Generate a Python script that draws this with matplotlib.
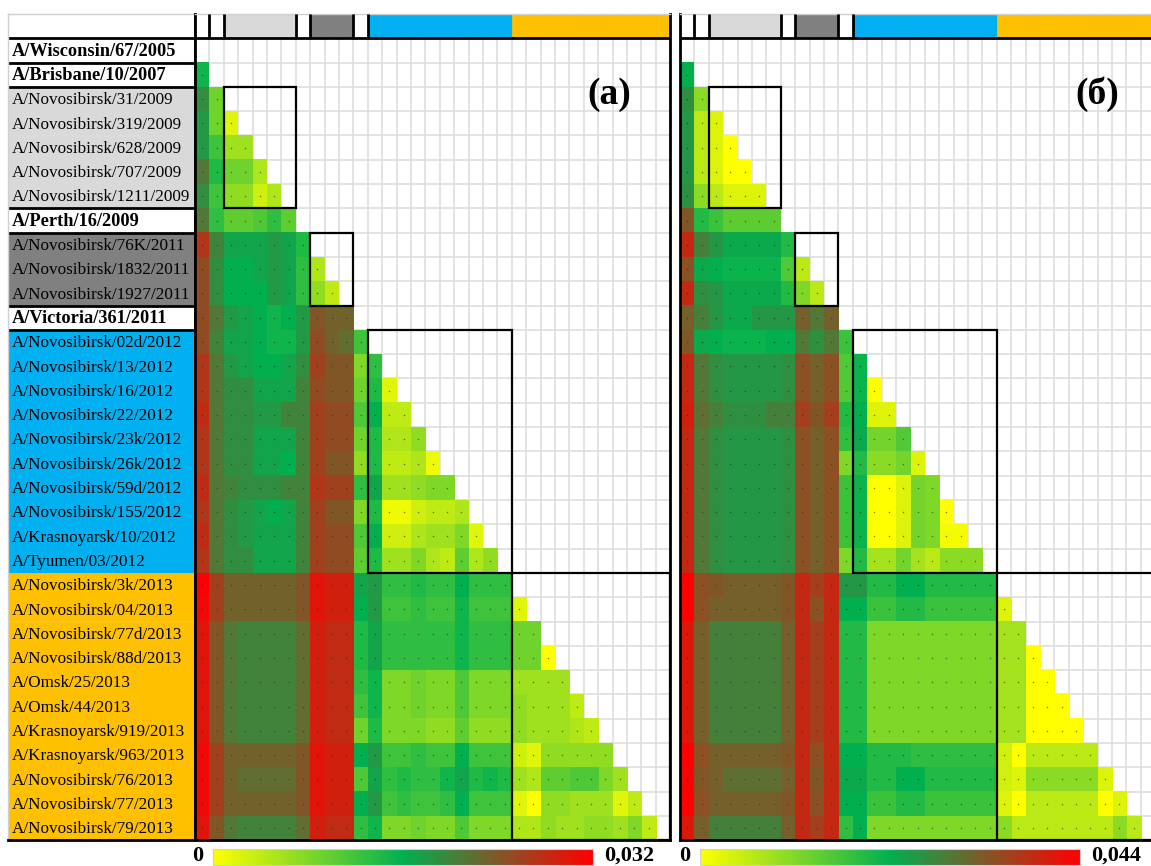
import numpy as np
import matplotlib
matplotlib.use('Agg')
import matplotlib.pyplot as plt
from matplotlib.colors import LinearSegmentedColormap, Normalize
from matplotlib.patches import Rectangle
from matplotlib.cm import ScalarMappable

plt.rcParams['font.family'] = ['Liberation Serif', 'DejaVu Serif']

W, H = 1151, 866

strains = [
    'A/Wisconsin/67/2005', 'A/Brisbane/10/2007',
    'A/Novosibirsk/31/2009', 'A/Novosibirsk/319/2009', 'A/Novosibirsk/628/2009',
    'A/Novosibirsk/707/2009', 'A/Novosibirsk/1211/2009',
    'A/Perth/16/2009',
    'A/Novosibirsk/76K/2011', 'A/Novosibirsk/1832/2011', 'A/Novosibirsk/1927/2011',
    'A/Victoria/361/2011',
    'A/Novosibirsk/02d/2012', 'A/Novosibirsk/13/2012', 'A/Novosibirsk/16/2012',
    'A/Novosibirsk/22/2012', 'A/Novosibirsk/23k/2012', 'A/Novosibirsk/26k/2012',
    'A/Novosibirsk/59d/2012', 'A/Novosibirsk/155/2012', 'A/Krasnoyarsk/10/2012',
    'A/Tyumen/03/2012',
    'A/Novosibirsk/3k/2013', 'A/Novosibirsk/04/2013', 'A/Novosibirsk/77d/2013',
    'A/Novosibirsk/88d/2013', 'A/Omsk/25/2013', 'A/Omsk/44/2013',
    'A/Krasnoyarsk/919/2013', 'A/Krasnoyarsk/963/2013', 'A/Novosibirsk/76/2013',
    'A/Novosibirsk/77/2013', 'A/Novosibirsk/79/2013',
]
groups = (['ref', 'ref'] + ['y2009'] * 5 + ['ref'] + ['y2011'] * 3 + ['ref']
          + ['y2012'] * 10 + ['y2013'] * 11)
group_colors = {'ref': '#FFFFFF', 'y2009': '#D9D9D9', 'y2011': '#808080',
                'y2012': '#00B0F0', 'y2013': '#FFC000'}

# pairwise distances, x1e-3, lower triangle row by row
dist_a = [
    [],
    [15],
    [19, 9],
    [18, 9, 2],
    [18, 12, 6, 6],
    [21, 14, 9, 9, 5],
    [19, 12, 7, 7, 3, 5],
    [21, 13, 10, 10, 11, 13, 10],
    [27, 20, 17, 17, 17, 18, 17, 14],
    [25, 19, 16, 16, 17, 18, 17, 13, 5],
    [25, 19, 16, 16, 16, 18, 17, 13, 7, 4],
    [25, 21, 18, 17, 16, 15, 16, 18, 24, 23, 23],
    [25, 20, 17, 17, 16, 15, 15, 18, 25, 23, 22, 12],
    [27, 21, 18, 17, 16, 16, 17, 19, 26, 24, 24, 8, 13],
    [27, 21, 19, 19, 17, 17, 17, 20, 25, 24, 24, 9, 14, 2],
    [28, 21, 19, 19, 18, 18, 20, 20, 26, 25, 25, 11, 16, 4, 4],
    [27, 21, 19, 19, 17, 17, 17, 20, 26, 25, 25, 9, 14, 5, 5, 7],
    [27, 21, 19, 19, 17, 17, 16, 20, 26, 24, 24, 7, 14, 4, 4, 5, 1],
    [28, 21, 20, 19, 19, 19, 20, 20, 27, 26, 26, 13, 17, 6, 6, 7, 8, 8],
    [27, 21, 19, 18, 17, 16, 17, 20, 26, 24, 24, 8, 14, 1, 1, 3, 4, 4, 5],
    [28, 21, 19, 18, 17, 17, 17, 20, 26, 25, 25, 11, 16, 3, 3, 5, 6, 6, 8, 2],
    [27, 21, 19, 19, 17, 17, 17, 20, 26, 25, 25, 10, 14, 6, 6, 8, 5, 4, 10, 5, 7],
    [32, 26, 23, 23, 23, 23, 23, 24, 30, 29, 29, 17, 18, 13, 13, 14, 13, 13, 16, 13, 13, 13],
    [31, 26, 23, 23, 23, 23, 23, 24, 30, 29, 29, 16, 18, 12, 12, 13, 12, 12, 15, 12, 12, 12, 2],
    [30, 24, 21, 20, 20, 20, 20, 22, 29, 28, 28, 14, 17, 13, 13, 13, 13, 13, 15, 13, 13, 13, 9, 9],
    [30, 24, 21, 20, 20, 20, 20, 22, 29, 28, 28, 14, 17, 13, 13, 13, 13, 13, 15, 13, 13, 13, 9, 9, 0],
    [30, 24, 21, 20, 20, 20, 20, 22, 29, 28, 28, 13, 15, 8, 8, 9, 8, 8, 11, 8, 8, 8, 6, 6, 6, 6],
    [30, 24, 21, 20, 20, 20, 20, 22, 29, 28, 28, 12, 15, 8, 8, 9, 8, 8, 11, 8, 8, 8, 7, 6, 6, 6, 4],
    [30, 24, 21, 20, 20, 20, 20, 22, 29, 28, 28, 9, 14, 8, 8, 8, 7, 7, 10, 7, 7, 7, 7, 6, 6, 6, 5, 4],
    [31, 26, 23, 23, 23, 23, 23, 24, 30, 29, 29, 16, 18, 12, 12, 13, 12, 12, 16, 12, 12, 12, 3, 2, 7, 7, 7, 7, 7],
    [31, 26, 23, 22, 22, 22, 22, 24, 30, 29, 29, 11, 17, 13, 14, 13, 13, 15, 17, 14, 15, 14, 6, 5, 10, 10, 11, 11, 8, 6],
    [31, 26, 23, 23, 23, 23, 23, 24, 30, 29, 29, 16, 18, 12, 13, 12, 12, 13, 16, 12, 12, 12, 2, 0, 7, 7, 6, 6, 6, 2, 4],
    [30, 24, 21, 20, 20, 20, 20, 22, 29, 28, 28, 13, 15, 8, 8, 9, 8, 8, 11, 8, 8, 8, 5, 5, 7, 6, 6, 7, 7, 6, 8, 4],
]

dist_b = [
    [],
    [22],
    [26, 10],
    [25, 6, 3],
    [25, 6, 3, 0],
    [25, 6, 3, 0, 0],
    [26, 10, 6, 3, 3, 3],
    [33, 19, 17, 14, 14, 14, 14],
    [39, 28, 25, 23, 23, 23, 23, 19],
    [34, 23, 22, 21, 21, 21, 21, 15, 6],
    [39, 26, 25, 23, 23, 23, 23, 19, 11, 6],
    [32, 28, 25, 23, 23, 25, 25, 25, 32, 29, 32],
    [33, 23, 22, 21, 21, 21, 22, 22, 29, 26, 29, 17],
    [39, 29, 26, 25, 25, 25, 25, 26, 34, 32, 34, 15, 21],
    [39, 29, 26, 25, 25, 25, 25, 26, 34, 32, 34, 15, 21, 0],
    [40, 30, 28, 26, 26, 26, 28, 28, 36, 33, 36, 19, 22, 3, 3],
    [39, 29, 26, 25, 25, 25, 25, 26, 34, 32, 34, 18, 23, 12, 12, 15],
    [39, 29, 26, 25, 25, 25, 25, 26, 34, 32, 34, 11, 19, 10, 10, 12, 3],
    [39, 29, 26, 25, 25, 25, 25, 26, 34, 32, 34, 17, 21, 0, 0, 3, 12, 11],
    [39, 29, 26, 25, 25, 25, 25, 26, 34, 32, 34, 17, 21, 0, 0, 3, 12, 11, 0],
    [39, 29, 26, 25, 25, 25, 25, 26, 34, 32, 34, 17, 21, 0, 0, 3, 12, 11, 1, 1],
    [39, 29, 26, 25, 25, 25, 25, 26, 34, 32, 34, 11, 19, 8, 8, 12, 8, 6, 10, 10, 10],
    [44, 34, 33, 32, 32, 32, 32, 33, 39, 36, 39, 25, 25, 19, 19, 22, 22, 19, 19, 19, 19, 19],
    [44, 34, 32, 32, 32, 32, 32, 33, 39, 34, 39, 22, 22, 17, 17, 19, 19, 17, 17, 17, 17, 17, 3],
    [41, 32, 28, 28, 28, 28, 28, 32, 39, 36, 39, 19, 19, 11, 11, 11, 11, 11, 11, 11, 11, 11, 8, 8],
    [41, 32, 28, 28, 28, 28, 28, 32, 39, 36, 39, 19, 19, 11, 11, 11, 11, 11, 11, 11, 11, 11, 8, 8, 0],
    [41, 32, 28, 28, 28, 28, 28, 32, 39, 36, 39, 19, 19, 11, 11, 11, 11, 11, 11, 11, 11, 11, 8, 8, 0, 0],
    [41, 32, 28, 28, 28, 28, 28, 32, 39, 36, 39, 19, 19, 11, 11, 11, 11, 11, 11, 11, 11, 11, 8, 8, 0, 0, 0],
    [41, 32, 28, 28, 28, 28, 28, 32, 39, 36, 39, 19, 19, 11, 11, 11, 11, 11, 11, 11, 11, 11, 8, 8, 0, 0, 0, 0],
    [44, 34, 32, 32, 32, 32, 32, 33, 39, 34, 39, 22, 22, 19, 19, 19, 18, 18, 18, 18, 18, 18, 4, 0, 6, 6, 6, 6, 6],
    [43, 33, 32, 30, 30, 30, 30, 32, 39, 33, 39, 23, 23, 19, 19, 22, 22, 19, 19, 19, 19, 19, 4, 3, 10, 10, 10, 10, 10, 3],
    [44, 34, 32, 32, 32, 32, 32, 33, 39, 34, 39, 22, 22, 17, 17, 19, 19, 17, 17, 17, 17, 17, 3, 0, 6, 6, 6, 6, 6, 0, 3],
    [41, 32, 28, 28, 28, 28, 28, 32, 39, 36, 39, 18, 22, 11, 11, 11, 11, 11, 11, 11, 11, 11, 10, 6, 6, 6, 6, 6, 6, 6, 10, 6],
]

vmax_a, vmax_b = 0.032, 0.044
panel_titles = ['(а)', '(б)']

cmap = LinearSegmentedColormap.from_list('ygr', ['#FFFF00', '#00B050', '#FF0000'])
cmap.set_bad((1, 1, 1, 0))

n = len(strains)
TOP, ROW_H, COL_W = 14, 24.3, 14.4


def px_axes(fig, x, y, w, h):
    return fig.add_axes([x / W, 1 - (y + h) / H, w / W, h / H])


def to_matrix(rows):
    m = np.full((n, n), np.nan)
    for i, r in enumerate(rows):
        m[i, :len(r)] = np.array(r) * 1e-3
    return m


# contiguous non-reference groups get a box
blocks = []
i = 0
while i < n:
    if groups[i] == 'ref':
        i += 1
        continue
    j = i
    while j < n and groups[j] == groups[i]:
        j += 1
    blocks.append((i, j - i))
    i = j

ref_bounds = [k for k in range(1, n) if groups[k] == 'ref' or groups[k - 1] == 'ref']


def draw_panel(ax, rows, vmax, title, tx):
    m = to_matrix(rows)
    norm = Normalize(0, vmax)
    ax.vlines(np.arange(1, n), 0, n, color='#DEDEDE', lw=1.2, zorder=0)
    ax.hlines(np.arange(1, n), 0, n, color='#DEDEDE', lw=1.2, zorder=0)
    ax.imshow(m, cmap=cmap, norm=norm, extent=(0, n, n, 0),
              interpolation='nearest', aspect='auto', zorder=1)
    ii, jj = np.nonzero(~np.isnan(m))
    ax.scatter(jj + 0.5, ii + 0.5, s=1.2, c='#2a2a2a', alpha=0.6, lw=0, zorder=2)

    # header strip coloured by group
    for k, g in enumerate(groups):
        ax.add_patch(Rectangle((k, -1), 1, 1, facecolor=group_colors[g],
                               edgecolor=group_colors[g], lw=0.5, zorder=1))
    ax.vlines(ref_bounds, -1, 0, color='k', lw=2, zorder=3)
    ax.axhline(0, color='k', lw=2, zorder=3)

    for s, size in blocks:
        ax.add_patch(Rectangle((s, s), size, size, fill=False, ec='k',
                               lw=1.6, zorder=4))

    ax.text(tx, 2.3, title, fontsize=27, fontweight='bold',
            ha='center', va='center', zorder=5)

    ax.set_xlim(0, n)
    ax.set_ylim(n, -1)
    ax.set_xticks([])
    ax.set_yticks([])
    for side in ['left', 'right', 'bottom']:
        ax.spines[side].set_linewidth(2)
        ax.spines[side].set_color('k')
    ax.spines['top'].set_color('#D0D0D0')
    ax.spines['top'].set_linewidth(1)
    return norm


fig = plt.figure(figsize=(W / 100, H / 100), dpi=100)

panel_h = (n + 1) * ROW_H
ax_lab = px_axes(fig, 8, TOP, 187, panel_h)
ax_a = px_axes(fig, 195, TOP, n * COL_W, panel_h)
ax_b = px_axes(fig, 680, TOP, n * COL_W, panel_h)

# strain labels
for k, (name, g) in enumerate(zip(strains, groups)):
    ax_lab.add_patch(Rectangle((0, k), 1, 1, facecolor=group_colors[g],
                               edgecolor=group_colors[g], lw=0.6))
    bold = g == 'ref'
    ax_lab.text(0.02, k + 0.55, name, fontsize=13.2 if bold else 12.3,
                va='center', ha='left', fontweight='bold' if bold else 'normal')
ax_lab.hlines([0] + ref_bounds, 0, 1, color='k', lw=2)
ax_lab.set_xlim(0, 1)
ax_lab.set_ylim(n, -1)
ax_lab.set_xticks([])
ax_lab.set_yticks([])
for side in ['left', 'top']:
    ax_lab.spines[side].set_color('#D0D0D0')
    ax_lab.spines[side].set_linewidth(1)
for side in ['right', 'bottom']:
    ax_lab.spines[side].set_color('k')
    ax_lab.spines[side].set_linewidth(2)

norm_a = draw_panel(ax_a, dist_a, vmax_a, panel_titles[0], 28.8)
norm_b = draw_panel(ax_b, dist_b, vmax_b, panel_titles[1], 29.0)

# colour scales under each panel
for norm, vmax, x0, lab0 in [(norm_a, vmax_a, 213, 198), (norm_b, vmax_b, 700, 685)]:
    cax = px_axes(fig, x0, 849, 380, 16)
    cb = fig.colorbar(ScalarMappable(norm=norm, cmap=cmap), cax=cax,
                      orientation='horizontal')
    cb.set_ticks([])
    cb.outline.set_edgecolor('#D0D0D0')
    fig.text(lab0 / W, 1 - 861 / H, '0', fontsize=16, fontweight='bold',
             ha='center', va='baseline')
    fig.text((x0 + 391) / W, 1 - 861 / H, f'{vmax:.3f}'.replace('.', ','),
             fontsize=16, fontweight='bold', ha='left', va='baseline')

fig.savefig('out.png', dpi=100)
